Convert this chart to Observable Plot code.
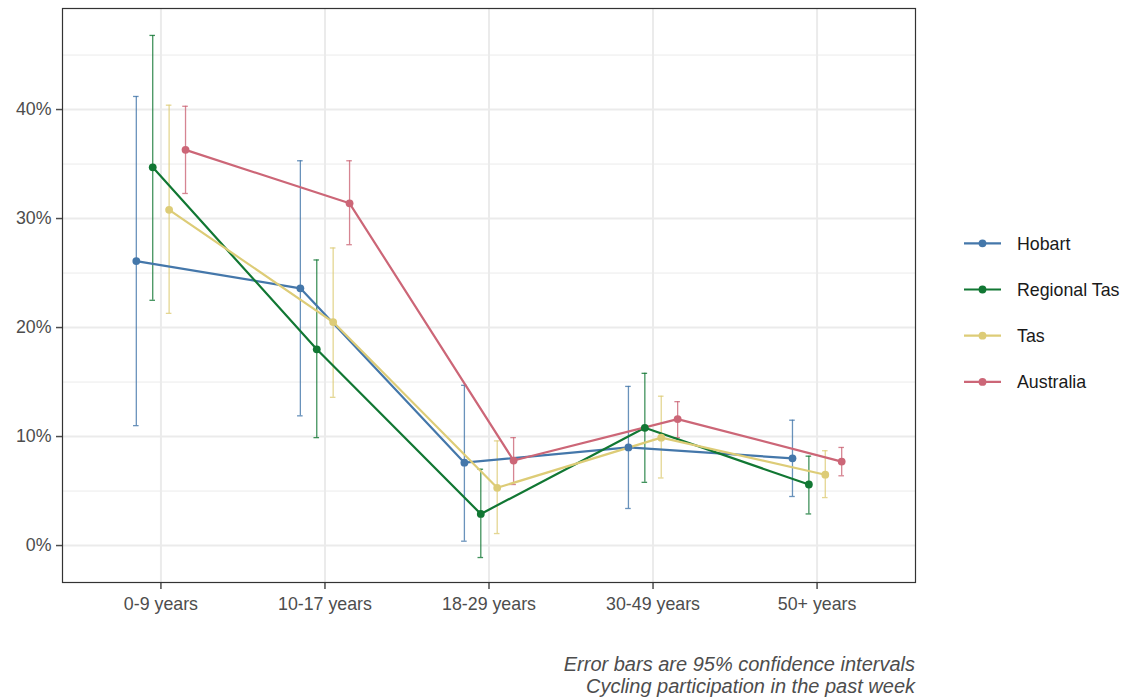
<!DOCTYPE html>
<html>
<head>
<meta charset="utf-8">
<script src="https://cdn.jsdelivr.net/npm/d3@7"></script>
<script src="https://cdn.jsdelivr.net/npm/@observablehq/plot@0.6"></script>
<style>
  html, body { margin: 0; padding: 0; background: #fff; }
  #wrap { position: relative; width: 1128px; height: 699px; font-family: "Liberation Sans", Arial, sans-serif; }
  #chart { position: absolute; left: 0; top: 0; }
  #legend { position: absolute; left: 0; top: 0; }
  #caption { position: absolute; right: 213px; top: 653px; text-align: right; font-style: italic; font-size: 20px; line-height: 22px; color: #4d4d4d; }
</style>
</head>
<body>
<div id="wrap">
  <div id="chart"></div>
  <svg id="legend" width="1128" height="699"></svg>
  <div id="caption">Error bars are 95% confidence intervals<br>Cycling participation in the past week</div>
</div>
<script>
const categories = ["0-9 years", "10-17 years", "18-29 years", "30-49 years", "50+ years"];
const series = ["Hobart", "Regional Tas", "Tas", "Australia"];
const colors = ["#4477AA", "#117733", "#DDCC77", "#CC6677"];

const hobart    = [26.1, 23.6, 7.6, 9.0, 8.0];
const hobartLo  = [11.0, 11.9, 0.4, 3.4, 4.5];
const hobartHi  = [41.2, 35.3, 14.7, 14.6, 11.5];

const regional   = [34.7, 18.0, 2.9, 10.8, 5.6];
const regionalLo = [22.5, 9.9, -1.1, 5.8, 2.9];
const regionalHi = [46.8, 26.2, 7.0, 15.8, 8.2];

const tas   = [30.8, 20.5, 5.3, 9.9, 6.5];
const tasLo = [21.3, 13.6, 1.1, 6.2, 4.4];
const tasHi = [40.4, 27.3, 9.6, 13.7, 8.7];

const australia   = [36.3, 31.4, 7.8, 11.6, 7.7];
const australiaLo = [32.3, 27.6, 5.6, 9.9, 6.4];
const australiaHi = [40.3, 35.3, 9.9, 13.2, 9.0];

const yTicks = [0, 10, 20, 30, 40];
const yMinor = [5, 15, 25, 35, 45];

const values = [hobart, regional, tas, australia];
const lows = [hobartLo, regionalLo, tasLo, australiaLo];
const highs = [hobartHi, regionalHi, tasHi, australiaHi];

const dodgeWidth = 0.4;
const capHalf = 0.017;
const data = [];
series.forEach((s, si) => {
  categories.forEach((c, ci) => {
    data.push({
      series: s,
      category: c,
      pos: ci + (si - (series.length - 1) / 2) * dodgeWidth / series.length,
      value: values[si][ci],
      lo: lows[si][ci],
      hi: highs[si][ci]
    });
  });
});

const font = '"Liberation Sans", Arial, sans-serif';
const colorScale = {domain: series, range: colors};

const plot = Plot.plot({
  width: 1128,
  height: 620,
  marginLeft: 62,
  marginRight: 213,
  marginTop: 8,
  marginBottom: 38,
  style: {fontFamily: font, fontSize: "17.5px", background: "white", overflow: "visible"},
  x: {type: "linear", domain: [-0.6, 4.6], axis: null},
  y: {domain: [-3.39, 49.27], axis: null},
  color: colorScale,
  marks: [
    Plot.gridY(yMinor, {stroke: "#ebebeb", strokeOpacity: 1, strokeWidth: 1}),
    Plot.gridY(yTicks, {stroke: "#ebebeb", strokeOpacity: 1, strokeWidth: 2}),
    Plot.gridX(d3.range(categories.length), {stroke: "#ebebeb", strokeOpacity: 1, strokeWidth: 2}),
    Plot.axisY(yTicks, {tickSize: 6, tickPadding: 5, tickFormat: d => d + "%", color: "#4d4d4d", fontSize: "17.8px", strokeWidth: 1.5, label: null}),
    Plot.axisX(d3.range(categories.length), {tickSize: 7, tickPadding: 8, tickFormat: i => categories[i], color: "#4d4d4d", fontSize: "17.8px", strokeWidth: 1.5, label: null}),
    Plot.ruleX(data, {x: "pos", y1: "lo", y2: "hi", stroke: "series", strokeWidth: 1.3, strokeOpacity: 0.8}),
    Plot.ruleY(data, {y: "lo", x1: d => d.pos - capHalf, x2: d => d.pos + capHalf, stroke: "series", strokeWidth: 1.3, strokeOpacity: 0.8}),
    Plot.ruleY(data, {y: "hi", x1: d => d.pos - capHalf, x2: d => d.pos + capHalf, stroke: "series", strokeWidth: 1.3, strokeOpacity: 0.8}),
    Plot.line(data, {x: "pos", y: "value", z: "series", stroke: "series", strokeWidth: 2.2}),
    Plot.dot(data, {x: "pos", y: "value", fill: "series", r: 3.9}),
    Plot.frame({stroke: "#333333", strokeWidth: 1.2})
  ]
});
document.getElementById("chart").appendChild(plot);

// Legend (line + dot keys)
const leg = d3.select("#legend");
const legX = 964, legY0 = 243.3, legStep = 46.2, keyW = 37;
series.forEach((s, i) => {
  const y = legY0 + i * legStep;
  const g = leg.append("g");
  g.append("line").attr("x1", legX).attr("x2", legX + keyW).attr("y1", y).attr("y2", y)
    .attr("stroke", colors[i]).attr("stroke-width", 2.2);
  g.append("circle").attr("cx", legX + keyW / 2).attr("cy", y).attr("r", 3.9).attr("fill", colors[i]);
  g.append("text").attr("x", 1017).attr("y", y).attr("dy", "0.35em")
    .attr("font-family", font).attr("font-size", "17.8px").attr("fill", "#1a1a1a").text(s);
});
</script>
</body>
</html>
